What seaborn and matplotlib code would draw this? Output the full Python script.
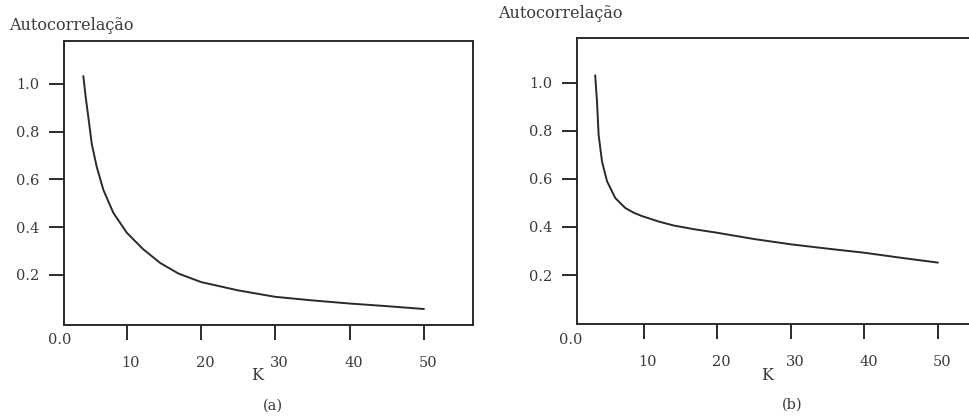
import matplotlib
matplotlib.use("Agg")
import matplotlib.pyplot as plt
import matplotlib.transforms as mtransforms
import seaborn as sns
import pandas as pd

# Panel (a) data
k_a = [4.16, 4.5, 4.84, 5.29, 5.96, 6.86, 8.2, 10.0, 12.2, 14.5, 17.0, 20.0, 25.0, 30.0, 35.0, 40.0, 45.0, 50.0]
r_a = [1.033, 0.94, 0.86, 0.75, 0.653, 0.556, 0.46, 0.377, 0.308, 0.25, 0.205, 0.17, 0.135, 0.108, 0.093, 0.08, 0.069, 0.057]

# Panel (b) data
k_b = [3.41, 3.66, 3.88, 4.34, 5.02, 6.15, 7.5, 8.6, 9.8, 12.0, 14.1, 17.0, 20.0, 25.0, 30.0, 35.0, 40.0, 45.0, 50.0]
r_b = [1.03, 0.92, 0.782, 0.672, 0.59, 0.52, 0.479, 0.46, 0.445, 0.423, 0.406, 0.39, 0.376, 0.35, 0.328, 0.31, 0.293, 0.272, 0.252]

y_ticks = [0.2, 0.4, 0.6, 0.8, 1.0]
x_ticks = [10, 20, 30, 40, 50]
y_label = "Autocorrelação"
x_label = "K"

sns.set_theme(style="white")
plt.rcParams['font.family'] = ['DejaVu Serif']

fig = plt.figure(figsize=(9.69, 4.18), dpi=100)
W, H = 969, 418

def px_axes(l, t, r, b):
    return fig.add_axes([l / W, 1 - b / H, (r - l) / W, (b - t) / H])

ax_a = px_axes(64, 41, 473, 325)
ax_b = px_axes(577, 38, 985, 324)

ink = "#2a2a2a"
tc = "#3a3a3a"
panels = [
    (ax_a, k_a, r_a, (1.56, 56.6), (-0.01, 1.18)),
    (ax_b, k_b, r_b, (0.94, 56.4), (-0.003, 1.185)),
]

for ax, k, r, xl, yl in panels:
    df = pd.DataFrame({"K": k, "r": r})
    sns.lineplot(data=df, x="K", y="r", ax=ax, color=ink, linewidth=1.4)
    ax.set_xlim(*xl)
    ax.set_ylim(*yl)
    ax.set_xticks(x_ticks)
    ax.set_yticks(y_ticks)
    ax.set_xticklabels([str(v) for v in x_ticks])
    ax.set_yticklabels([f"{v:.1f}" for v in y_ticks])
    ax.tick_params(axis="both", direction="out", length=11, width=1.4, color=ink,
                   labelsize=10.5, labelcolor=tc)
    ax.tick_params(axis="x", pad=11, bottom=True)
    ax.tick_params(axis="y", pad=7, left=True)
    for s in ax.spines.values():
        s.set_color(ink)
        s.set_linewidth(1.4)
    ax.set_xlabel("")
    ax.set_ylabel("")
    ax.grid(False)
    off = mtransforms.ScaledTranslation(4 / 100, 0, fig.dpi_scale_trans)
    for lab in ax.get_xticklabels():
        lab.set_transform(lab.get_transform() + off)

fs = 11.5
fig.text(9 / W, 1 - 26 / H, y_label, ha="left", va="center", fontsize=fs, color=tc)
fig.text(498 / W, 1 - 13 / H, y_label, ha="left", va="center", fontsize=fs, color=tc)
fig.text(60 / W, 1 - 340 / H, "0.0", ha="center", va="center", fontsize=10.5, color=tc)
fig.text(571 / W, 1 - 340 / H, "0.0", ha="center", va="center", fontsize=10.5, color=tc)
fig.text(257 / W, 1 - 376 / H, x_label, ha="center", va="center", fontsize=11.5, color=tc)
fig.text(767 / W, 1 - 375 / H, x_label, ha="center", va="center", fontsize=11.5, color=tc)
fig.text(273 / W, 1 - 406 / H, "(a)", ha="center", va="center", fontsize=10.5, color=tc)
fig.text(792 / W, 1 - 405 / H, "(b)", ha="center", va="center", fontsize=10.5, color=tc)

fig.savefig("out.png", dpi=100)
